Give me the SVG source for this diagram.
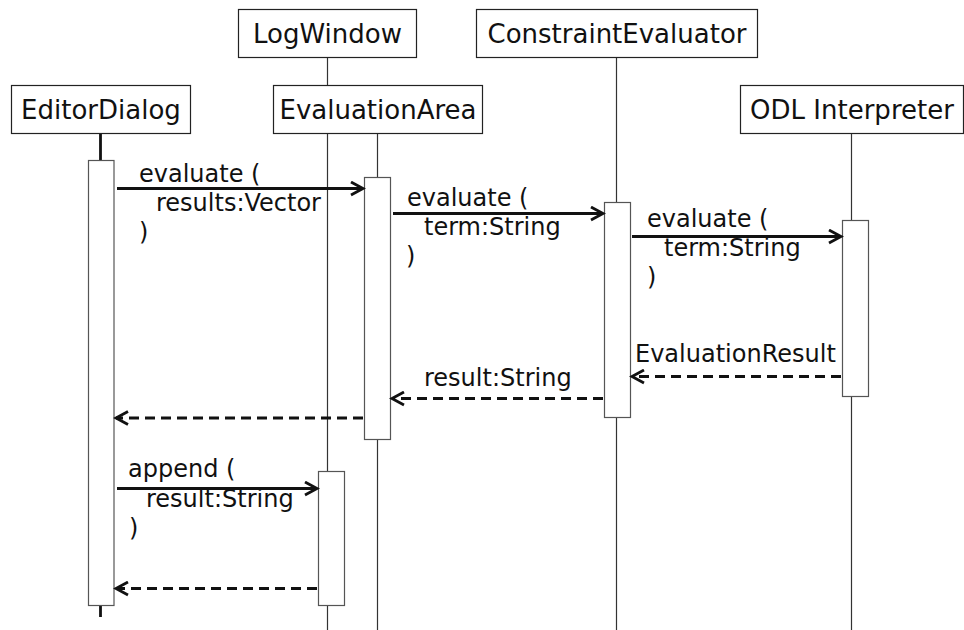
<svg xmlns="http://www.w3.org/2000/svg" width="964" height="630" viewBox="0 0 964 630">
<style>
.box{fill:#fff;stroke:#222;stroke-width:1.2}
.act{fill:#fff;stroke:#555;stroke-width:1.2}
.life{stroke:#333;stroke-width:1.2;fill:none}
.lifeThick{stroke:#111;stroke-width:2.8;fill:none}
.hdr{font-family:"DejaVu Sans",sans-serif;font-size:26px;fill:#111;text-anchor:middle}
.lbl{font-family:"DejaVu Sans",sans-serif;font-size:24px;fill:#111}
.msg{stroke:#111;stroke-width:2.8;fill:none}
.ret{stroke:#111;stroke-width:2.8;fill:none;stroke-dasharray:10 6}
</style>
<defs>
<marker id="arr" markerUnits="userSpaceOnUse" markerWidth="16" markerHeight="16" refX="13" refY="8" orient="auto">
<path d="M1,1.5 L13,8 L1,14.5" fill="none" stroke="#111" stroke-width="2.8"/>
</marker>
</defs>
<g id="lifelines">
<line class="lifeThick" x1="100.5" y1="133" x2="100.5" y2="617"/>
<line class="life" x1="327.5" y1="57" x2="327.5" y2="630"/>
<line class="life" x1="377.5" y1="133" x2="377.5" y2="630"/>
<line class="life" x1="616.5" y1="57" x2="616.5" y2="630"/>
<line class="life" x1="851.5" y1="133" x2="851.5" y2="630"/>
</g>
<g id="LogWindow">
<rect class="box" x="238.5" y="9.5" width="178" height="48"/>
<text class="hdr" x="327.5" y="43">LogWindow</text>
</g>
<g id="ConstraintEvaluator">
<rect class="box" x="476.5" y="9.5" width="281" height="48"/>
<text class="hdr" x="617" y="43">ConstraintEvaluator</text>
</g>
<g id="EditorDialog">
<rect class="box" x="11.5" y="85.5" width="179" height="48"/>
<text class="hdr" x="101" y="119">EditorDialog</text>
</g>
<g id="EvaluationArea">
<rect class="box" x="273.5" y="85.5" width="209" height="48"/>
<text class="hdr" x="378" y="119">EvaluationArea</text>
</g>
<g id="ODLInterpreter">
<rect class="box" x="740.5" y="85.5" width="223" height="48"/>
<text class="hdr" x="852" y="119">ODL Interpreter</text>
</g>
<g id="activations">
<rect class="act" x="88.5" y="160.5" width="25.5" height="445"/>
<rect class="act" x="364.5" y="177.5" width="26" height="262"/>
<rect class="act" x="604.5" y="202.5" width="26" height="215"/>
<rect class="act" x="842.5" y="220.5" width="26" height="176"/>
<rect class="act" x="318.5" y="471.5" width="26" height="134"/>
</g>
<g id="connectors">
<line class="msg" x1="117" y1="188.5" x2="363" y2="188.5" marker-end="url(#arr)"/>
<line class="msg" x1="393" y1="213.5" x2="603" y2="213.5" marker-end="url(#arr)"/>
<line class="msg" x1="632" y1="236.5" x2="841" y2="236.5" marker-end="url(#arr)"/>
<line class="ret" x1="841" y1="376.5" x2="632" y2="376.5" marker-end="url(#arr)"/>
<line class="ret" x1="603" y1="398.5" x2="392" y2="398.5" marker-end="url(#arr)"/>
<line class="ret" x1="363" y1="418" x2="116" y2="418" marker-end="url(#arr)"/>
<line class="msg" x1="117" y1="488.5" x2="317" y2="488.5" marker-end="url(#arr)"/>
<line class="ret" x1="317" y1="588.5" x2="116" y2="588.5" marker-end="url(#arr)"/>
</g>
<g id="labels">
<text class="lbl" x="139" y="182">evaluate (</text>
<text class="lbl" x="156" y="211">results:Vector</text>
<text class="lbl" x="139" y="240">)</text>
<text class="lbl" x="407" y="206">evaluate (</text>
<text class="lbl" x="424" y="235">term:String</text>
<text class="lbl" x="406" y="264">)</text>
<text class="lbl" x="647" y="227">evaluate (</text>
<text class="lbl" x="664" y="256">term:String</text>
<text class="lbl" x="647" y="285">)</text>
<text class="lbl" x="635" y="362">EvaluationResult</text>
<text class="lbl" x="424" y="386">result:String</text>
<text class="lbl" x="128" y="477">append (</text>
<text class="lbl" x="146" y="507">result:String</text>
<text class="lbl" x="129" y="536">)</text>
</g>
</svg>
